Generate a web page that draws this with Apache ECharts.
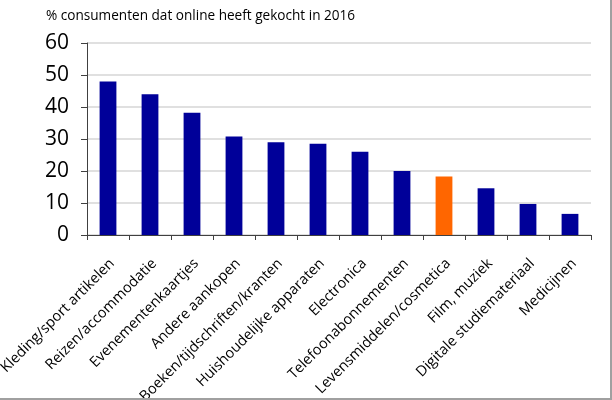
<!DOCTYPE html>
<html>
<head>
<meta charset="utf-8">
<script src="https://cdn.jsdelivr.net/npm/echarts@6/dist/echarts.min.js"></script>
<style>
  html, body { margin: 0; padding: 0; background: #fff; }
  #chart { width: 612px; height: 400px; box-sizing: border-box; border-right: 2px solid #a0a0a0; border-bottom: 2px solid #a0a0a0; }
</style>
</head>
<body>
<div id="chart"></div>
<script>
  var categories = [
    'Kleding/sport artikelen', 'Reizen/accommodatie', 'Evenementenkaartjes',
    'Andere aankopen', 'Boeken/tijdschriften/kranten', 'Huishoudelijke apparaten',
    'Electronica', 'Telefoonabonnementen', 'Levensmiddelen/cosmetica',
    'Film, muziek', 'Digitale studiemateriaal', 'Medicijnen'
  ];
  var values = [48, 44, 38.2, 30.8, 29, 28.5, 26, 20, 18.3, 14.6, 9.7, 6.6];
  var highlightIndex = 8;
  var titleText = '% consumenten dat online heeft gekocht in 2016';

  var myChart = echarts.init(document.getElementById('chart'));

  myChart.setOption({
    animation: false,
    textStyle: { fontFamily: 'Open Sans' },
    title: {
      text: titleText,
      left: 41,
      top: 4,
      textStyle: { fontSize: 13.6, fontWeight: 'normal', color: '#000', fontFamily: 'Open Sans' }
    },
    grid: { left: 87, right: 19, top: 43, bottom: 163, outerBoundsMode: 'none', containLabel: false },
    xAxis: {
      type: 'category',
      data: categories,
      axisLine: { lineStyle: { color: '#404040', width: 1 } },
      axisTick: { show: true, length: 5, lineStyle: { color: '#404040' } },
      axisLabel: {
        rotate: 45, interval: 0, margin: 22, fontSize: 14.5, color: '#000',
        verticalAlign: 'top', lineHeight: 12
      }
    },
    yAxis: {
      type: 'value',
      min: 0, max: 60, interval: 10,
      axisLine: { show: true, lineStyle: { color: '#404040', width: 1 } },
      axisTick: { show: true, length: 6, lineStyle: { color: '#404040' } },
      axisLabel: { fontSize: 21, color: '#000', margin: 18 },
      splitLine: { lineStyle: { color: '#e0e0e0', width: 2 } }
    },
    series: [{
      type: 'bar',
      data: values.map(function (v, i) {
        return { value: v, itemStyle: { color: i === highlightIndex ? '#ff6600' : '#000099' } };
      }),
      barWidth: '40%'
    }]
  });
</script>
</body>
</html>
